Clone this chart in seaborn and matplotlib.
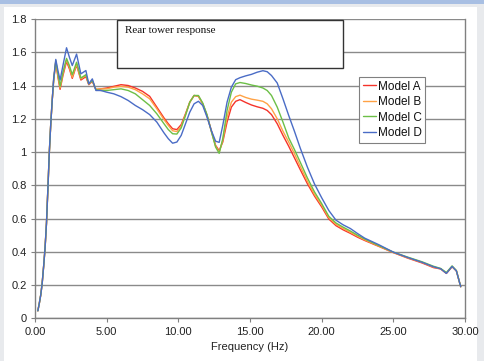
import matplotlib
matplotlib.use("Agg")
import matplotlib.pyplot as plt
import seaborn as sns
import pandas as pd
from matplotlib.patches import Rectangle

freq = [0.2, 0.3, 0.4, 0.5, 0.6, 0.7, 0.8, 0.9, 1.0, 1.1, 1.2, 1.3, 1.45, 1.6, 1.75, 1.95,
        2.2, 2.4, 2.6, 2.9, 3.2, 3.55, 3.75, 4.0, 4.25, 4.6, 5.0, 5.5, 6.0, 6.5, 7.0, 7.5,
        8.0, 8.5, 9.0, 9.3, 9.6, 9.9, 10.2, 10.5, 10.8, 11.1, 11.4, 11.7, 12.0, 12.3,
        12.6, 12.85, 13.1, 13.4, 13.7, 14.0, 14.3, 14.7, 15.1, 15.5, 15.9, 16.2, 16.5, 16.9,
        17.3, 17.7, 18.1, 18.5, 19.0, 19.5, 20.0, 20.5, 21.0, 21.5, 22.0, 22.5, 23.0, 24.0,
        25.0, 26.0, 27.0, 27.8, 28.3, 28.7, 29.1, 29.4, 29.7]

model_a = [0.045, 0.09, 0.14, 0.21, 0.31, 0.42, 0.57, 0.78, 1.0, 1.17, 1.31, 1.43, 1.54, 1.45, 1.377, 1.46,
           1.545, 1.50, 1.443, 1.523, 1.433, 1.453, 1.405, 1.425, 1.375, 1.38, 1.385, 1.395, 1.405, 1.40, 1.385, 1.365,
           1.335, 1.27, 1.205, 1.17, 1.14, 1.135, 1.165, 1.23, 1.30, 1.34, 1.335, 1.29, 1.22, 1.13,
           1.04, 1.008, 1.06, 1.18, 1.27, 1.305, 1.315, 1.298, 1.283, 1.272, 1.263, 1.25, 1.225, 1.17,
           1.10, 1.035, 0.965, 0.895, 0.81, 0.735, 0.67, 0.597, 0.557, 0.532, 0.511, 0.488, 0.468, 0.432,
           0.395, 0.362, 0.333, 0.305, 0.297, 0.27, 0.31, 0.285, 0.19]

model_b = [0.045, 0.09, 0.14, 0.21, 0.31, 0.42, 0.57, 0.78, 1.0, 1.17, 1.31, 1.43, 1.545, 1.46, 1.385, 1.47,
           1.555, 1.51, 1.45, 1.53, 1.44, 1.46, 1.408, 1.43, 1.378, 1.38, 1.38, 1.39, 1.395, 1.39, 1.375, 1.35,
           1.32, 1.26, 1.195, 1.16, 1.128, 1.123, 1.155, 1.225, 1.30, 1.34, 1.336, 1.29, 1.22, 1.125,
           1.035, 1.0, 1.07, 1.21, 1.30, 1.333, 1.342, 1.328, 1.318, 1.312, 1.305, 1.29, 1.26, 1.20,
           1.125, 1.06, 0.99, 0.915, 0.825, 0.745, 0.68, 0.605, 0.565, 0.54, 0.517, 0.494, 0.472, 0.434,
           0.396, 0.364, 0.336, 0.308, 0.298, 0.272, 0.312, 0.285, 0.19]

model_c = [0.045, 0.09, 0.14, 0.21, 0.31, 0.42, 0.57, 0.78, 1.0, 1.17, 1.31, 1.43, 1.55, 1.47, 1.395, 1.48,
           1.563, 1.52, 1.465, 1.54, 1.445, 1.465, 1.41, 1.43, 1.375, 1.37, 1.37, 1.375, 1.38, 1.37, 1.35, 1.315,
           1.28, 1.23, 1.17, 1.135, 1.11, 1.108, 1.145, 1.22, 1.30, 1.34, 1.34, 1.295, 1.225, 1.125,
           1.03, 0.992, 1.08, 1.25, 1.36, 1.41, 1.418, 1.412, 1.403, 1.396, 1.385, 1.37, 1.34, 1.27,
           1.18, 1.085, 1.015, 0.94, 0.845, 0.76, 0.69, 0.613, 0.573, 0.548, 0.525, 0.50, 0.477, 0.437,
           0.398, 0.368, 0.34, 0.313, 0.30, 0.275, 0.315, 0.287, 0.19]

model_d = [0.045, 0.09, 0.14, 0.21, 0.31, 0.42, 0.57, 0.78, 1.0, 1.17, 1.31, 1.44, 1.557, 1.49, 1.433, 1.52,
           1.627, 1.57, 1.52, 1.589, 1.47, 1.49, 1.41, 1.44, 1.37, 1.37, 1.36, 1.35, 1.333, 1.31, 1.28, 1.255,
           1.225, 1.18, 1.115, 1.08, 1.053, 1.06, 1.10, 1.17, 1.24, 1.29, 1.305, 1.28, 1.21, 1.13,
           1.065, 1.058, 1.16, 1.30, 1.39, 1.435, 1.447, 1.458, 1.467, 1.48, 1.489, 1.483, 1.46, 1.415,
           1.32, 1.22, 1.125, 1.025, 0.91, 0.808, 0.725, 0.648, 0.59, 0.562, 0.54, 0.51, 0.482, 0.442,
           0.398, 0.366, 0.337, 0.31, 0.298, 0.27, 0.312, 0.285, 0.19]

models = ["Model A", "Model B", "Model C", "Model D"]
colors = ["#f5332a", "#ffa245", "#6cbf47", "#4a6cc6"]

x_ticks = [0, 5, 10, 15, 20, 25, 30]
x_labels = ["0.00", "5.00", "10.00", "15.00", "20.00", "25.00", "30.00"]
y_ticks = [0, 0.2, 0.4, 0.6, 0.8, 1.0, 1.2, 1.4, 1.6, 1.8]
y_labels = ["0", "0.2", "0.4", "0.6", "0.8", "1", "1.2", "1.4", "1.6", "1.8"]

rows = []
for name, vals in zip(models, [model_a, model_b, model_c, model_d]):
    for f, v in zip(freq, vals):
        rows.append({"Frequency": f, "Response": v, "Model": name})
df = pd.DataFrame(rows)

sns.set_theme(style="white")
plt.rcParams["font.family"] = ["Liberation Sans", "DejaVu Sans"]

fig = plt.figure(figsize=(4.84, 3.61), dpi=100)
fig.patch.set_facecolor("#e8eaed")
fig.patches.append(Rectangle((4 / 484, 0), 473 / 484, 1 - 7 / 361, transform=fig.transFigure,
                             facecolor="white", edgecolor="none", zorder=-10))
fig.patches.append(Rectangle((0, 1 - 4 / 361), 1, 4 / 361, transform=fig.transFigure,
                             facecolor="#a8bfe3", edgecolor="none", zorder=-10))

ax = fig.add_axes([35 / 484, 1 - 318.3 / 361, 430 / 484, 299.3 / 361])
ax.set_zorder(1)
ax.set_facecolor("white")

sns.lineplot(data=df, x="Frequency", y="Response", hue="Model", hue_order=models,
             palette=colors, linewidth=1.0, ax=ax, legend=True, sort=False)

ax.set_xlim(0, 30)
ax.set_ylim(0, 1.8)
ax.set_xticks(x_ticks)
ax.set_xticklabels(x_labels)
ax.set_yticks(y_ticks)
ax.set_yticklabels(y_labels)
ax.tick_params(axis="both", labelsize=8, labelcolor="#222222", length=3, width=0.8,
               direction="out", pad=3, color="#808080", left=True, bottom=True)
ax.yaxis.grid(True, color="#8a8a8a", linewidth=1.0)
ax.xaxis.grid(False)
ax.set_axisbelow(True)
for side in ["left", "bottom", "right"]:
    ax.spines[side].set_visible(True)
    ax.spines[side].set_color("#808080")
    ax.spines[side].set_linewidth(1.0)
ax.spines["top"].set_visible(False)
ax.set_ylabel("")
ax.set_xlabel("Frequency (Hz)", fontsize=8, color="#222222", labelpad=4)

ax.add_patch(Rectangle((0.19, 0.836), 0.526, 0.161, transform=ax.transAxes,
                       facecolor="white", edgecolor="#333333", linewidth=1.0, zorder=5))
ax.text(0.209, 0.96, "Rear tower response", transform=ax.transAxes,
        fontsize=8, family=["Liberation Serif", "DejaVu Serif"], color="#111111",
        va="center", ha="left", zorder=6)

leg = ax.legend(loc="upper left", bbox_to_anchor=(359 / 484, 1 - 77 / 361),
                bbox_transform=fig.transFigure, fontsize=8.5, frameon=True, fancybox=False,
                handlelength=1.1, handletextpad=0.2, borderpad=0.3, labelspacing=0.3,
                borderaxespad=0, title=None)
leg.get_frame().set_edgecolor("#808080")
leg.get_frame().set_linewidth(0.8)
leg.get_frame().set_facecolor("white")
leg.get_frame().set_alpha(1.0)
for t in leg.get_texts():
    t.set_color("#111111")

fig.savefig("out.png", dpi=100, facecolor=fig.get_facecolor())
